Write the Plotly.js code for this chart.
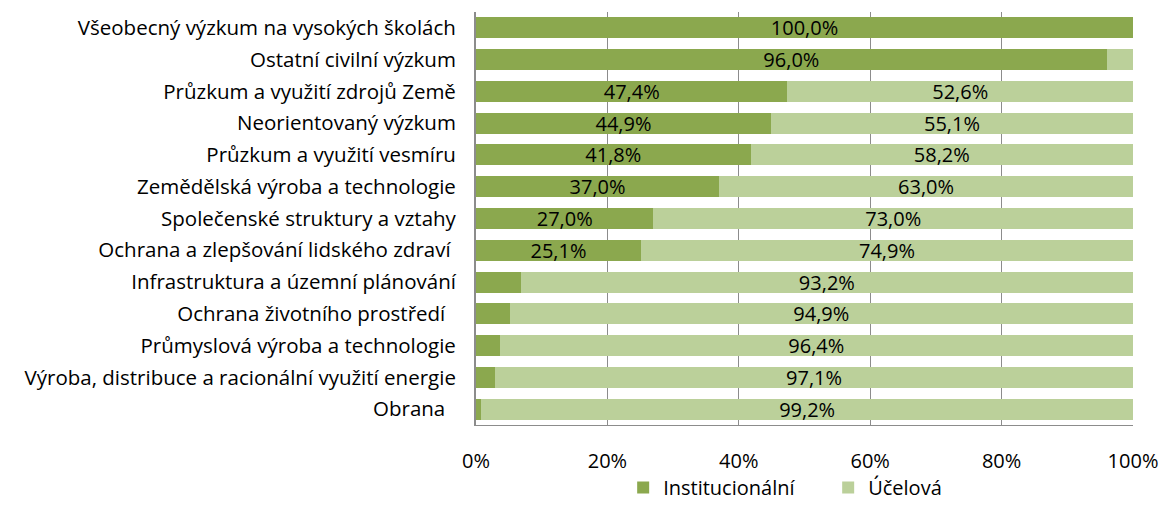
<!DOCTYPE html>
<html><head><meta charset="utf-8">
<script src="https://cdn.plot.ly/plotly-3.0.1.min.js"></script>
<style>body{margin:0;background:#fff}#c{width:1165px;height:507px}</style>
</head><body><div id="c"></div>
<script>
const categories = [
  "Všeobecný výzkum na vysokých školách",
  "Ostatní civilní výzkum",
  "Průzkum a využití zdrojů Země",
  "Neorientovaný výzkum",
  "Průzkum a využití vesmíru",
  "Zemědělská výroba a technologie",
  "Společenské struktury a vztahy",
  "Ochrana a zlepšování lidského zdraví\u00a0",
  "Infrastruktura a územní plánování",
  "Ochrana životního prostředí\u00a0\u00a0",
  "Průmyslová výroba a technologie",
  "Výroba, distribuce a racionální využití energie",
  "Obrana\u00a0\u00a0"
];
const institucionalni = [100.0, 96.0, 47.4, 44.9, 41.8, 37.0, 27.0, 25.1, 6.8, 5.1, 3.6, 2.9, 0.8];
const ucelova = [0.0, 4.0, 52.6, 55.1, 58.2, 63.0, 73.0, 74.9, 93.2, 94.9, 96.4, 97.1, 99.2];
const xTicks = [0, 20, 40, 60, 80, 100];
const xTickLabels = ["0%", "20%", "40%", "60%", "80%", "100%"];

const fmt = v => v.toFixed(1).replace('.', ',') + '%';
const lbl = arr => arr.map(v => v >= 10 ? fmt(v) : '');
const font = "Open Sans, Liberation Sans, sans-serif";
const FS = 20;

const traces = [
  {type:'bar', orientation:'h', name:'Institucionální', y:categories, x:institucionalni,
   marker:{color:'#8BA84E'}, text:lbl(institucionalni), textposition:'inside', insidetextanchor:'middle',
   textfont:{color:'#000', size:FS, family:font}, hoverinfo:'x+y'},
  {type:'bar', orientation:'h', name:'Účelová', y:categories, x:ucelova,
   marker:{color:'#BBD09A'}, text:lbl(ucelova), textposition:'inside', insidetextanchor:'middle',
   textfont:{color:'#000', size:FS, family:font}, hoverinfo:'x+y'}
];
const layout = {
  width:1165, height:507, barmode:'stack', bargap:0.34,
  margin:{l:476, r:32, t:12, b:82, autoexpand:false},
  paper_bgcolor:'#fff', plot_bgcolor:'#fff',
  font:{family:font, size:FS, color:'#000'},
  xaxis:{range:[0,100], tickvals:xTicks, ticktext:xTickLabels, showgrid:true, gridcolor:'#8c8c8c', gridwidth:1,
         zeroline:false, showline:true, linecolor:'#8c8c8c', ticks:'', tickfont:{size:FS}, ticklabelstandoff:18, automargin:false},
  yaxis:{autorange:'reversed', showline:true, linecolor:'#8c8c8c', linewidth:2, ticks:'',
         tickfont:{size:20.5}, ticklabelstandoff:14, automargin:false},
  showlegend:true,
  legend:{orientation:'h', x:0.224, xanchor:'left', yref:'container', y:0.0, yanchor:'bottom', font:{size:FS}, traceorder:'normal', entrywidth:160},
  uniformtext:{mode:'show', minsize:FS}
};
Plotly.newPlot('c', traces, layout, {displayModeBar:false, staticPlot:true});
</script></body></html>
